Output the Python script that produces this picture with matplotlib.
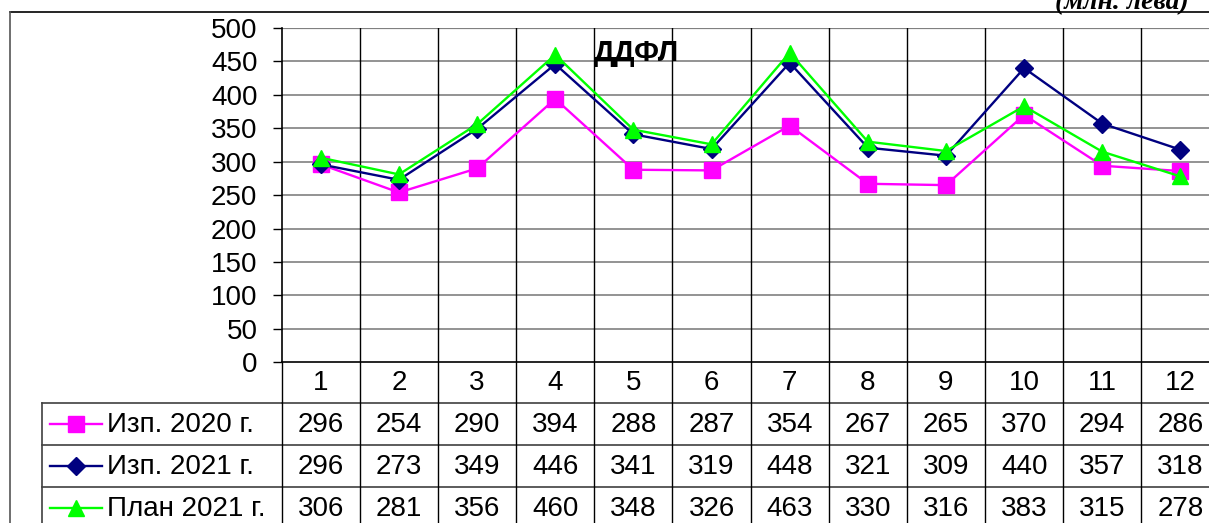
import matplotlib
matplotlib.use("Agg")
import matplotlib.pyplot as plt

plt.rcParams['font.family'] = ['Liberation Sans', 'DejaVu Sans']

months = ["1", "2", "3", "4", "5", "6", "7", "8", "9", "10", "11", "12"]
izp2020 = [296, 254, 290, 394, 288, 287, 354, 267, 265, 370, 294, 286]
izp2021 = [296, 273, 349, 446, 341, 319, 448, 321, 309, 440, 357, 318]
plan2021 = [306, 281, 356, 460, 348, 326, 463, 330, 316, 383, 315, 278]
series_names = ["Изп. 2020 г.", "Изп. 2021 г.", "План 2021 г."]
yticks = [0, 50, 100, 150, 200, 250, 300, 350, 400, 450, 500]
title = "ДДФЛ"
unit = "(млн. лева)"

W, H = 1209, 523
fig = plt.figure(figsize=(W / 100, H / 100), dpi=100)
fig.patch.set_facecolor('white')

x0, x1 = 281.7, 1219.5   # plot area left / right (px)
yt, yb = 28.0, 362.3      # plot area top / bottom (px)
colw = (x1 - x0) / len(months)

ax = fig.add_axes([x0 / W, 1 - yb / H, (x1 - x0) / W, (yb - yt) / H])
ax.set_xlim(-0.5, len(months) - 0.5)
ax.set_ylim(0, 500)
xs = list(range(len(months)))

styles = [
    dict(color='#FF00FF', marker='s', markersize=12),
    dict(color='#000080', marker='D', markersize=9),
    dict(color='#00FF00', marker='^', markersize=12),
]
for vals, st in zip([izp2020, izp2021, plan2021], styles):
    ax.plot(xs, vals, color=st['color'], lw=1.7, marker=st['marker'],
            markersize=st['markersize'], markerfacecolor=st['color'],
            markeredgecolor=st['color'], clip_on=False, zorder=3)

ax.set_yticks(yticks)
ax.set_yticklabels([str(v) for v in yticks], fontsize=20)
ax.tick_params(axis='y', length=6.5, width=1.0, color='black', pad=11)
ax.set_xticks([])
for yv in yticks[1:]:
    ax.axhline(yv, color='#808080', lw=1.6 if yv == 500 else 1.2, zorder=1)
for i in range(1, len(months)):
    ax.axvline(i - 0.5, color='black', lw=1.0, zorder=1)
for s in ['top', 'right']:
    ax.spines[s].set_visible(False)
ax.spines['left'].set_linewidth(1.2)
ax.spines['bottom'].set_linewidth(1.2)
ax.text(0.378, 0.925, title, transform=ax.transAxes, ha='center', va='center',
        fontsize=21, fontweight='bold')

# overlay in pixel coordinates for frame and data table
ov = fig.add_axes([0, 0, 1, 1], zorder=-1)
ov.set_xlim(0, W)
ov.set_ylim(H, 0)
ov.axis('off')

# outer frame
ov.plot([10, W], [12, 12], color='black', lw=1.2)
ov.plot([10, 10], [12, H], color='#555555', lw=1.2)
ov.text(1189, 9, unit, ha='right', va='baseline', fontsize=20,
        fontweight='bold', fontstyle='italic', family='Liberation Serif')

rows_y = [362.3, 402.7, 444.5, 486.5, 528]
leg_x = 42
# horizontal lines of table
ov.plot([x0, W], [rows_y[1], rows_y[1]], color='#404040', lw=1.2)
for yy in rows_y[2:4]:
    ov.plot([leg_x, W], [yy, yy], color='#404040', lw=1.2)
ov.plot([leg_x, x0], [rows_y[1], rows_y[1]], color='#404040', lw=1.2)
ov.plot([leg_x, leg_x], [rows_y[1], H], color='#404040', lw=1.2)
# vertical lines of table
for i in range(len(months) + 1):
    xx = x0 + i * colw
    ov.plot([xx, xx], [rows_y[0], H], color='black', lw=1.0)

# header row
for i, m in enumerate(months):
    ov.text(x0 + (i + 0.5) * colw, (rows_y[0] + rows_y[1]) / 2 + 1, m,
            ha='center', va='center', fontsize=20)

for r, (name, vals, st) in enumerate(zip(series_names, [izp2020, izp2021, plan2021], styles)):
    yc = (rows_y[r + 1] + rows_y[r + 2]) / 2
    if r == 2:
        yc = rows_y[3] + 21
    ov.plot([50, 102], [yc, yc], color=st['color'], lw=1.7)
    ov.plot([76], [yc], marker=st['marker'], markersize=st['markersize'],
            color=st['color'], clip_on=False)
    ov.text(107, yc + 1, name, ha='left', va='center', fontsize=20)
    for i, v in enumerate(vals):
        ov.text(x0 + (i + 0.5) * colw, yc + 1, str(v), ha='center',
                va='center', fontsize=20)

fig.savefig('out.png', dpi=100)
